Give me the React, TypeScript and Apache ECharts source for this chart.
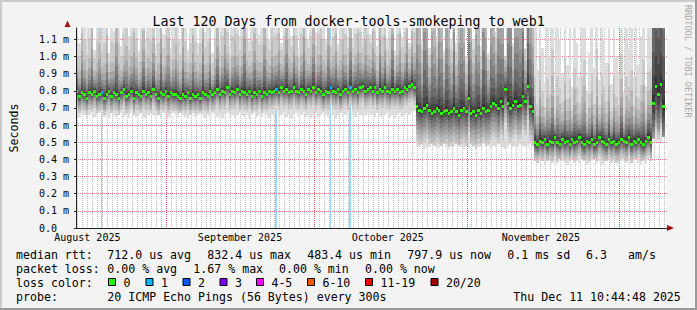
import { useEffect, useRef } from 'react';
import * as echarts from 'echarts';

// ---------------- data ----------------
// one sample = 12 h (half a day); x is measured in days since the graph start
const SAMPLE_DAYS = 0.5;
const X_MAX_DAYS = 120;
const Y_MAX_MS = 1.166;

// median rtt in ms per sample
const medianMs = [
  0.80, 0.77, 0.79, 0.78, 0.76, 0.79, 0.78, 0.80, 0.77, 0.78,
  0.79, 0.76, 0.78, 0.80, 0.77, 0.79, 0.78, 0.76, 0.79, 0.81,
  0.77, 0.78, 0.80, 0.76, 0.79, 0.78, 0.77, 0.80, 0.78, 0.79,
  0.77, 0.81, 0.78, 0.76, 0.79, 0.78, 0.80, 0.77, 0.79, 0.78,
  0.78, 0.77, 0.76, 0.78, 0.77, 0.79, 0.76, 0.78, 0.77, 0.78,
  0.76, 0.79, 0.78, 0.77, 0.80, 0.78, 0.79, 0.81, 0.78, 0.80,
  0.79, 0.82, 0.78, 0.80, 0.79, 0.81, 0.78, 0.80, 0.79, 0.78,
  0.80, 0.77, 0.79, 0.78, 0.80, 0.77, 0.79, 0.78, 0.80, 0.79,
  0.80, 0.81, 0.79, 0.82, 0.80, 0.81, 0.79, 0.80, 0.82, 0.80,
  0.79, 0.81, 0.80, 0.78, 0.81, 0.80, 0.82, 0.79, 0.81, 0.80,
  0.78, 0.80, 0.79, 0.82, 0.80, 0.79, 0.81, 0.78, 0.80, 0.81,
  0.79, 0.82, 0.80, 0.81, 0.79, 0.82, 0.83, 0.80, 0.81, 0.82,
  0.80, 0.82, 0.79, 0.81, 0.80, 0.82, 0.80, 0.79, 0.81, 0.80,
  0.81, 0.79, 0.80, 0.82, 0.81, 0.83, 0.84, 0.82,
  0.71, 0.69, 0.68, 0.70, 0.72, 0.69, 0.67, 0.68, 0.70, 0.69,
  0.67, 0.68, 0.69, 0.67, 0.68, 0.70, 0.68, 0.66, 0.69, 0.70,
  0.68, 0.76, 0.67, 0.68, 0.66, 0.69, 0.67, 0.70, 0.68, 0.69,
  0.71, 0.73, 0.72, 0.70, 0.74, 0.71, 0.81, 0.73, 0.70, 0.72,
  0.74, 0.71, 0.72, 0.77, 0.74, 0.83, 0.71, 0.68,
  0.50, 0.49, 0.51, 0.50, 0.52, 0.49, 0.51, 0.50, 0.53, 0.50,
  0.49, 0.52, 0.50, 0.51, 0.49, 0.52, 0.50, 0.51, 0.53, 0.50,
  0.49, 0.51, 0.50, 0.52, 0.49, 0.50, 0.53, 0.51, 0.50, 0.49,
  0.52, 0.50, 0.51, 0.49, 0.50, 0.52, 0.51, 0.50, 0.53, 0.49,
  0.51, 0.50, 0.52, 0.50, 0.49, 0.51, 0.53, 0.50,
  0.73, 0.83, 0.78, 0.84, 0.71,
];

// slowest ping per sample (ms); values above 1.166 run past the top of the graph
const smokeHiMs = [
  1.2, 1.08, 1.5, 1.2, 1.1, 1.2, 1.6, 1.04, 1.2, 1.4,
  1.1, 1.2, 1.5, 1.02, 1.2, 1.15, 1.7, 1.2, 1.06, 1.2,
  1.4, 1.12, 1.2, 1.6, 1.2, 1.03, 1.2, 1.5, 1.1, 1.2,
  1.2, 1.4, 1.07, 1.2, 1.7, 1.13, 1.2, 1.5, 1.05, 1.2,
  1.4, 1.2, 1.1, 1.6, 1.2, 1.04, 1.2, 1.5, 1.2, 1.08,
  1.2, 1.7, 1.14, 1.2, 1.4, 1.02, 1.2, 1.5, 1.1, 1.2,
  1.6, 1.2, 1.06, 1.2, 1.4, 1.2, 1.12, 1.2, 1.7, 1.2,
  1.09, 1.2, 1.5, 1.2, 1.13, 1.2, 1.6, 1.2, 1.1, 1.4,
  1.2, 1.2, 1.5, 1.08, 1.2, 1.6, 1.2, 1.12, 1.4, 1.2,
  1.05, 1.2, 1.7, 1.2, 1.1, 1.2, 1.5, 1.14, 1.2, 1.4,
  1.2, 1.1, 1.6, 1.1, 1.2, 1.5, 1.07, 1.2, 1.4, 1.2,
  1.12, 1.6, 1.11, 1.2, 1.5, 1.2, 1.09, 1.4, 1.2, 1.13,
  1.5, 1.2, 1.06, 1.6, 1.2, 1.4, 1.1, 1.2, 1.7, 1.04,
  1.2, 1.5, 1.12, 1.2, 1.6, 1.08, 1.4, 1.2,
  1.6, 1.4, 1.1, 1.8, 1.5, 1.05, 1.6, 1.4, 1.12, 1.7,
  1.5, 1.03, 1.6, 1.4, 1.1, 1.8, 1.08, 1.5, 1.6, 1.4,
  1.0, 1.7, 1.5, 1.1, 1.6, 1.4, 1.06, 1.8, 1.5, 1.02,
  1.6, 1.4, 1.14, 1.7, 1.5, 1.6, 1.0, 1.8, 1.9, 1.08,
  1.6, 1.7, 1.5, 1.9, 1.05, 2.0, 1.6, 1.4,
  1.2, 0.92, 1.4, 1.05, 0.85, 1.2, 1.0, 1.5, 0.78, 1.2,
  1.1, 0.9, 1.4, 0.95, 1.2, 0.82, 1.3, 1.08, 0.88, 1.2,
  1.4, 0.8, 1.02, 1.2, 0.93, 1.5, 0.86, 1.2, 1.1, 0.96,
  1.3, 0.84, 1.2, 1.0, 0.9, 1.4, 0.79, 1.2, 1.05, 1.3,
  0.88, 1.2, 0.95, 1.12, 1.4, 0.83, 1.2, 1.3,
  1.8, 2.0, 1.9, 2.0, 1.8,
];

// fastest ping per sample
const smokeLoMs = [
  0.66, 0.65, 0.67, 0.66, 0.64, 0.66, 0.67, 0.65, 0.66, 0.67,
  0.68, 0.65, 0.66, 0.64, 0.67, 0.66, 0.65, 0.66, 0.67, 0.65,
  0.66, 0.64, 0.67, 0.66, 0.65, 0.66, 0.67, 0.65, 0.64, 0.66,
  0.67, 0.66, 0.65, 0.66, 0.64, 0.67, 0.66, 0.65, 0.66, 0.67,
  0.66, 0.65, 0.67, 0.66, 0.65, 0.64, 0.66, 0.67, 0.65, 0.66,
  0.67, 0.66, 0.64, 0.66, 0.65, 0.67, 0.66, 0.65, 0.66, 0.64,
  0.66, 0.67, 0.65, 0.66, 0.64, 0.66, 0.67, 0.66, 0.65, 0.66,
  0.64, 0.66, 0.67, 0.65, 0.66, 0.65, 0.67, 0.66, 0.64, 0.66,
  0.66, 0.69, 0.65, 0.66, 0.67, 0.65, 0.66, 0.64, 0.66, 0.67,
  0.65, 0.66, 0.67, 0.65, 0.66, 0.64, 0.66, 0.67, 0.65, 0.66,
  0.67, 0.66, 0.65, 0.72, 0.66, 0.64, 0.66, 0.67, 0.65, 0.66,
  0.67, 0.72, 0.66, 0.65, 0.67, 0.66, 0.65, 0.66, 0.67, 0.66,
  0.66, 0.65, 0.67, 0.66, 0.65, 0.66, 0.67, 0.65, 0.66, 0.64,
  0.66, 0.67, 0.65, 0.66, 0.67, 0.66, 0.67, 0.68,
  0.48, 0.47, 0.49, 0.46, 0.48, 0.47, 0.49, 0.48, 0.46, 0.47,
  0.48, 0.49, 0.47, 0.46, 0.48, 0.47, 0.49, 0.48, 0.47, 0.46,
  0.48, 0.47, 0.49, 0.48, 0.46, 0.47, 0.48, 0.49, 0.47, 0.48,
  0.46, 0.48, 0.47, 0.49, 0.48, 0.47, 0.46, 0.48, 0.49, 0.47,
  0.48, 0.47, 0.49, 0.48, 0.47, 0.48, 0.49, 0.48,
  0.39, 0.38, 0.40, 0.39, 0.37, 0.39, 0.40, 0.38, 0.39, 0.38,
  0.40, 0.39, 0.38, 0.37, 0.39, 0.40, 0.38, 0.39, 0.38, 0.40,
  0.39, 0.37, 0.38, 0.39, 0.40, 0.38, 0.39, 0.37, 0.38, 0.39,
  0.40, 0.38, 0.39, 0.38, 0.37, 0.39, 0.40, 0.38, 0.39, 0.38,
  0.39, 0.40, 0.38, 0.37, 0.39, 0.38, 0.40, 0.39,
  0.52, 0.50, 0.51, 0.50, 0.53,
];

// samples with lost pings (count of 20)
const lossSamples = [10, 81, 103, 111];
const lossCounts = [1, 1, 1, 1];

// periods with a distinct ping distribution: first sample of each
const segmentStarts = [0, 138, 186, 234];
// pings 2..19 relative to the median (ms) for a sample whose slowest ping is 1.2 ms
const smokeProfileAugOct = [-0.1, -0.08, -0.065, -0.05, -0.038, -0.027, -0.017, -0.009, -0.004, 0.005, 0.015, 0.03, 0.05, 0.075, 0.1, 0.14, 0.2, 0.32];
const smokeProfileOctNov = [-0.2, -0.17, -0.14, -0.11, -0.085, -0.06, -0.04, -0.02, -0.006, 0.01, 0.03, 0.06, 0.1, 0.15, 0.2, 0.27, 0.35, 0.45];
const smokeProfileNovDec = [-0.11, -0.09, -0.072, -0.058, -0.045, -0.033, -0.022, -0.012, -0.004, 0.01, 0.03, 0.05, 0.075, 0.1, 0.14, 0.19, 0.27, 0.38];
const smokeProfileDec = [-0.26, -0.24, -0.22, -0.2, -0.17, -0.14, -0.1, -0.06, -0.02, 0.02, 0.07, 0.13, 0.2, 0.28, 0.35, 0.42, 0.5, 0.6];
const smokeProfiles = [smokeProfileAugOct, smokeProfileOctNov, smokeProfileNovDec, smokeProfileDec];
const PROFILE_HI_MS = 1.2;

// calendar (days since graph start)
const monthStartDays = [18.3, 48.3, 79.4, 110.3];
const monthLabelDays = [2.3, 33.3, 63.3, 94.4];
const monthLabels = ['August 2025', 'September 2025', 'October 2025', 'November 2025'];

// texts
const titleText = 'Last 120 Days from docker-tools-smokeping to web1';
const rttStats = ['712.0 us avg', '832.4 us max', '483.4 us min', '797.9 us now', '0.1 ms sd'];
const amsValue = '6.3';
const amsUnit = 'am/s';
const lossStats = ['0.00 % avg', '1.67 % max', '0.00 % min', '0.00 % now'];
const lossColorLabels = ['0', '1', '2', '3', '4-5', '6-10', '11-19', '20/20'];
const lossColorSwatches = ['#26ff00', '#00b8ff', '#0059ff', '#7e00ff', '#ff00ff', '#ff5500', '#ff0000', '#a10000'];
const probeText = '20 ICMP Echo Pings (56 Bytes) every 300s';
const stampText = 'Thu Dec 11 10:44:48 2025';
const creditText = 'RRDTOOL / TOBI OETIKER';

// ---------------- layout / style ----------------
const W = 697;
const H = 310;
const MONO = '"DejaVu Sans Mono", monospace';
const LEG_FONT = `11.6px ${MONO}`;
const AXIS_FONT = `10px ${MONO}`;
const ROW_Y = [254.5, 268.5, 282.5, 296.5];
const RTT_X = [107.3, 207.3, 307.2, 407.3, 507.3];
const AMS_X = [586, 628];
const LOSS_X = [107.3, 193.3, 279, 365];
const BOX_X = [108, 145.5, 182.5, 219.5, 256, 307, 365, 430.5];
const MAJOR_GRID = 'rgba(255,0,0,0.42)';
const MAJOR_GRID_FAINT = 'rgba(255,0,0,0.16)';
const MINOR_GRID = 'rgba(130,130,130,0.5)';

const smokeGray = (layer: number) => {
  const c = Math.floor((190 / 10) * (10 - (layer + 1))) + 50;
  const h = c.toString(16).padStart(2, '0');
  return `#${h}${h}${h}`;
};

const segmentOf = (i: number) => {
  let s = 0;
  for (let k = 0; k < segmentStarts.length; k++) if (i >= segmentStarts[k]) s = k;
  return s;
};
const lossOf = (i: number) => {
  const k = lossSamples.indexOf(i);
  return k >= 0 ? lossCounts[k] : 0;
};
const lossColorOf = (n: number) => {
  if (n <= 0) return lossColorSwatches[0];
  if (n <= 3) return lossColorSwatches[n];
  if (n <= 5) return lossColorSwatches[4];
  if (n <= 10) return lossColorSwatches[5];
  if (n <= 19) return lossColorSwatches[6];
  return lossColorSwatches[7];
};

const smokeData = medianMs.map((m, i) => [i * SAMPLE_DAYS, m, smokeLoMs[i], smokeHiMs[i], lossOf(i), segmentOf(i)]);

const minorGridDays: number[] = [];
for (let d = monthStartDays[0] % 1; d < X_MAX_DAYS; d += 1) minorGridDays.push(d);
const gridLineData = [
  ...minorGridDays.map((d) => [d, 0]),
  ...monthStartDays.map((d) => [d, 1]),
];
const majorOverlayData = monthStartDays.map((d) => [d, 2]);
const monthLabelData = monthLabelDays.map((d, k) => [d, k]);

const renderSmoke = (_params: any, api: any) => {
  const d0 = api.value(0);
  const med = api.value(1);
  const lo = api.value(2);
  const hi = api.value(3);
  const loss = api.value(4);
  const prof = smokeProfiles[api.value(5)];
  // the upper tail of the distribution widens / narrows with the slowest ping
  const spread = Math.min(2.5, Math.max(0.3, (hi - med) / (PROFILE_HI_MS - med)));
  const x0 = Math.round(api.coord([d0, 0])[0]);
  const x1 = Math.round(api.coord([d0 + SAMPLE_DAYS, 0])[0]);
  const w = x1 - x0;
  const Y = (v: number) => Math.round(api.coord([d0, v])[1]);
  const pings: number[] = [lo];
  for (let k = 0; k < prof.length; k++) {
    const off = prof[k] > 0 ? prof[k] * spread : prof[k];
    pings.push(Math.min(hi, Math.max(lo, med + off)));
  }
  pings.push(hi);
  const children: any[] = [];
  if (loss > 0) {
    // loss marker column shows where the sample has no smoke
    const yt = Y(Y_MAX_MS);
    const bw = Math.max(1, w - 1);
    children.push({ type: 'rect', shape: { x: x0, y: yt, width: bw, height: Y(0) - yt }, style: { fill: '#9ad9f7' } });
  }
  for (let k = 0; k < 10; k++) {
    const yb = Y(pings[k]);
    const yt = Y(pings[19 - k]);
    if (yb - yt <= 0) continue;
    children.push({ type: 'rect', shape: { x: x0, y: yt, width: w, height: yb - yt }, style: { fill: smokeGray(k) } });
  }
  const ym = Y(med);
  children.push({ type: 'rect', shape: { x: x0, y: ym - 1, width: w, height: 3 }, style: { fill: lossColorOf(loss) } });
  return { type: 'group', children };
};

const renderGridLine = (_params: any, api: any) => {
  const d = api.value(0);
  const kind = api.value(1);
  const x = Math.round(api.coord([d, 0])[0]) + 0.5;
  const yb = api.coord([d, 0])[1];
  const yt = api.coord([d, Y_MAX_MS])[1];
  const stroke = kind === 0 ? MINOR_GRID : kind === 1 ? MAJOR_GRID : MAJOR_GRID_FAINT;
  return {
    type: 'line',
    shape: { x1: x, y1: yt, x2: x, y2: yb },
    style: { stroke, lineWidth: 1, lineDash: [1, 1] },
  };
};

const renderMonthLabel = (_params: any, api: any) => {
  const d = api.value(0);
  const [x, y] = api.coord([d, 0]);
  return {
    type: 'text',
    x,
    y: y + 9.5,
    style: { text: monthLabels[api.value(1)], font: AXIS_FONT, fill: '#000', align: 'center', verticalAlign: 'middle' },
  };
};

const text = (t: string, x: number, y: number, extra: any = {}) => ({
  type: 'text',
  x,
  y,
  silent: true,
  style: { text: t, font: LEG_FONT, fill: '#000', align: 'left', verticalAlign: 'middle', ...extra },
});

const graphics: any[] = [
  { type: 'rect', silent: true, shape: { x: 0, y: 0, width: W, height: 2 }, style: { fill: '#cbcbcb' } },
  { type: 'rect', silent: true, shape: { x: 0, y: 0, width: 2, height: H }, style: { fill: '#cbcbcb' } },
  { type: 'rect', silent: true, shape: { x: 0, y: H - 2, width: W, height: 2 }, style: { fill: '#999999' } },
  { type: 'rect', silent: true, shape: { x: W - 2, y: 0, width: 2, height: H }, style: { fill: '#999999' } },
  { type: 'polygon', silent: true, z: 10, shape: { points: [[64.5, 27], [70.5, 27], [67.5, 20.5]] }, style: { fill: '#a01010' } },
  { type: 'polygon', silent: true, z: 10, shape: { points: [[667, 225], [667, 231], [674, 228]] }, style: { fill: '#a01010' } },
  {
    type: 'text', x: 687.5, y: 5, rotation: -Math.PI / 2, silent: true,
    style: { text: creditText, font: `8.5px ${MONO}`, fill: '#a8a8a8', align: 'left', verticalAlign: 'middle' },
  },
  text('median rtt:', 16, ROW_Y[0]),
  ...rttStats.map((s, k) => text(s, RTT_X[k], ROW_Y[0])),
  text(amsValue, AMS_X[0], ROW_Y[0]),
  text(amsUnit, AMS_X[1], ROW_Y[0]),
  text('packet loss:', 16, ROW_Y[1]),
  ...lossStats.map((s, k) => text(s, LOSS_X[k], ROW_Y[1])),
  text('loss color:', 16, ROW_Y[2]),
  ...lossColorSwatches.map((c, k) => ({
    type: 'rect', silent: true,
    shape: { x: BOX_X[k] + 0.5, y: ROW_Y[2] - 4, width: 7, height: 7 },
    style: { fill: c, stroke: '#000', lineWidth: 1 },
  })),
  ...lossColorLabels.map((s, k) => text(s, BOX_X[k] + 15.4, ROW_Y[2])),
  text('probe:', 16, ROW_Y[3]),
  text(probeText, 107.3, ROW_Y[3]),
  text(stampText, 513.3, ROW_Y[3]),
];

const yLabel = (v: number) => (Math.abs(v) < 1e-9 ? '0.0' : `${v.toFixed(1)} m`);

const option: any = {
  animation: false,
  backgroundColor: '#f3f3f3',
  textStyle: { fontFamily: MONO },
  title: {
    text: titleText,
    left: 'center',
    top: 10,
    textStyle: { fontSize: 13.3, fontWeight: 'normal', color: '#000', fontFamily: MONO },
  },
  grid: { left: 67, right: 30, top: 28, bottom: 82, show: true, backgroundColor: '#ffffff', borderWidth: 0 },
  xAxis: {
    type: 'value',
    min: 0,
    max: X_MAX_DAYS,
    z: 4,
    axisLine: { show: true, onZero: false, lineStyle: { color: '#222', width: 1 } },
    axisTick: { show: false },
    splitLine: { show: false },
    axisLabel: { show: false },
  },
  yAxis: [
    {
      // grid lines behind the smoke
      type: 'value',
      min: 0,
      max: Y_MAX_MS,
      interval: 0.1,
      z: 1,
      axisLine: { show: false },
      axisTick: { show: false },
      axisLabel: { show: false },
      splitLine: { show: true, showMinLine: false, showMaxLine: false, lineStyle: { color: MAJOR_GRID, width: 1, type: [1, 1] } },
    },
    {
      // axis, labels and a faint grid over the smoke
      type: 'value',
      min: 0,
      max: Y_MAX_MS,
      interval: 0.1,
      z: 4,
      position: 'left',
      name: 'Seconds',
      nameLocation: 'middle',
      nameGap: 56,
      nameRotate: 90,
      nameTextStyle: { fontSize: 11.6, color: '#000', fontFamily: MONO },
      axisLine: { show: true, lineStyle: { color: '#222', width: 1 } },
      axisTick: { show: true, length: 2, lineStyle: { color: '#222' } },
      axisLabel: { align: 'left', margin: 37, fontSize: 10, color: '#000', fontFamily: MONO, showMaxLabel: false, formatter: yLabel },
      splitLine: { show: true, showMinLine: false, showMaxLine: false, lineStyle: { color: MAJOR_GRID_FAINT, width: 1, type: [1, 1] } },
    },
  ],
  series: [
    {
      type: 'custom',
      name: 'grid',
      z: 1,
      silent: true,
      clip: true,
      yAxisIndex: 0,
      renderItem: renderGridLine,
      encode: { x: 0, y: 1 },
      data: gridLineData,
    },
    {
      type: 'custom',
      name: 'smoke',
      z: 2,
      silent: true,
      clip: true,
      yAxisIndex: 0,
      renderItem: renderSmoke,
      encode: { x: 0, y: 1 },
      data: smokeData,
    },
    {
      type: 'custom',
      name: 'gridOverlay',
      z: 3,
      silent: true,
      clip: true,
      yAxisIndex: 0,
      renderItem: renderGridLine,
      encode: { x: 0, y: 1 },
      data: majorOverlayData,
    },
    {
      type: 'custom',
      name: 'monthLabels',
      z: 5,
      silent: true,
      clip: false,
      yAxisIndex: 0,
      renderItem: renderMonthLabel,
      encode: { x: 0 },
      data: monthLabelData,
    },
  ],
  graphic: graphics,
};

export default function App() {
  const ref = useRef<HTMLDivElement>(null);
  useEffect(() => {
    const chart = echarts.init(ref.current as HTMLDivElement, null, { renderer: 'svg' });
    chart.setOption(option);
    return () => chart.dispose();
  }, []);
  return <div ref={ref} style={{ position: 'fixed', left: 0, top: 0, width: W, height: H }} />;
}
